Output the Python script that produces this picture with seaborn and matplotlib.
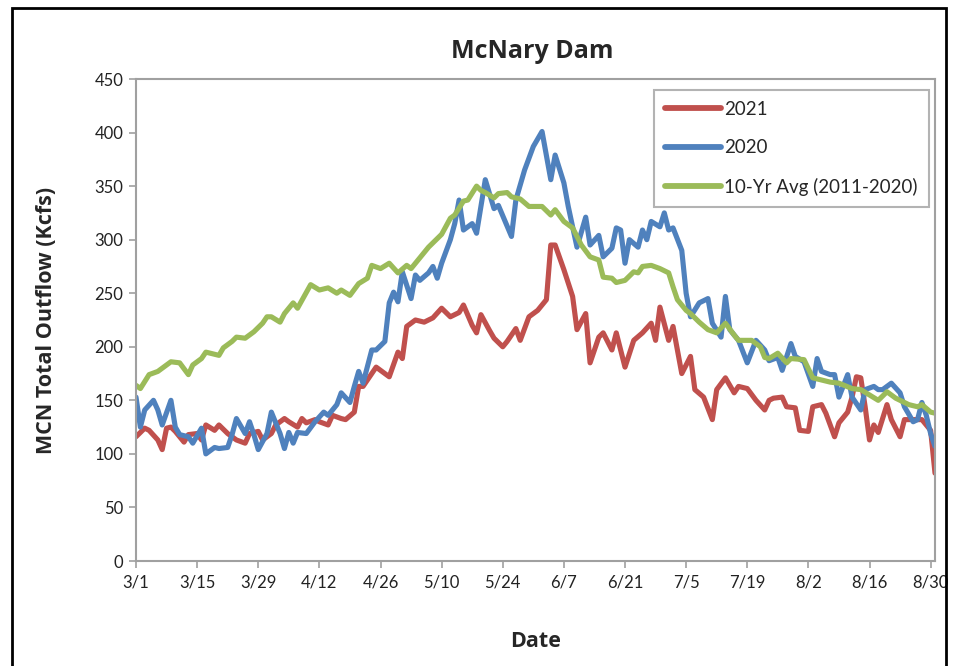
import numpy as np
import pandas as pd
import matplotlib
matplotlib.use("Agg")
import matplotlib.pyplot as plt
from matplotlib.patches import Rectangle
import seaborn as sns

# -------------------------------
# Data (day 0 = 3/1), values in Kcfs
# -------------------------------
days_2021 = [0, 2, 3, 5, 6, 7, 8, 9, 11, 12, 14, 15, 16, 18, 19, 21, 23, 25, 26, 28,
             29, 31, 32, 34, 35, 37, 38, 39, 41, 42, 44, 45, 47, 48, 50, 51, 52, 54, 55, 56,
             58, 60, 61, 62, 64, 66, 68, 70, 72, 74, 75, 77, 78, 79, 81, 82, 84, 85, 87, 88,
             90, 92, 94, 95, 96, 98, 100, 101, 103, 104, 106, 107, 109, 110, 112, 114, 116, 118, 119, 120,
             122, 123, 125, 127, 128, 130, 132, 133, 135, 137, 138, 140, 142, 144, 145, 146, 148, 149, 151, 152,
             154, 155, 157, 158, 160, 161, 163, 164, 165, 166, 167, 168, 169, 170, 172, 173, 175, 176, 178, 180,
             182, 183]
flow_2021 = [116, 124, 122, 113, 104, 124, 125, 121, 111, 118, 119, 113, 127, 122, 127, 119, 113, 110, 119, 121,
             113, 119, 127, 133, 130, 125, 133, 129, 132, 130, 127, 136, 133, 132, 139, 163, 163, 175, 181, 178,
             172, 195, 189, 219, 225, 223, 227, 236, 228, 232, 239, 220, 213, 230, 215, 208, 200, 205, 217, 206,
             228, 234, 244, 295, 295, 272, 247, 216, 231, 185, 209, 213, 197, 213, 181, 206, 213, 222, 206, 237,
             206, 219, 175, 191, 160, 153, 132, 160, 171, 157, 163, 161, 150, 141, 150, 152, 153, 144, 143, 122,
             121, 144, 146, 138, 116, 129, 139, 153, 172, 171, 144, 113, 127, 120, 146, 132, 116, 132, 132, 132,
             122, 82]

days_2020 = [0, 1, 2, 4, 5, 6, 8, 9, 10, 12, 13, 15, 16, 18, 19, 21, 22, 23, 25, 26,
             27, 28, 30, 31, 33, 34, 35, 36, 37, 39, 41, 43, 44, 46, 47, 49, 50, 51, 52, 54,
             55, 57, 58, 59, 60, 61, 63, 64, 65, 67, 68, 69, 70, 72, 73, 74, 75, 77, 78, 80,
             82, 83, 86, 87, 89, 91, 93, 95, 96, 98, 99, 101, 103, 104, 106, 107, 109, 110, 111, 112,
             113, 115, 116, 117, 118, 120, 121, 122, 123, 125, 126, 127, 129, 131, 132, 134, 135, 136, 138, 140,
             142, 144, 145, 147, 148, 150, 151, 153, 155, 156, 157, 159, 160, 161, 163, 164, 166, 167, 169, 170,
             171, 173, 175, 176, 178, 179, 180, 181, 182, 183]
flow_2020 = [153, 125, 141, 150, 141, 127, 150, 125, 118, 116, 110, 124, 100, 106, 105, 106, 118, 133, 119, 130,
             118, 104, 119, 139, 119, 105, 120, 110, 120, 119, 130, 139, 136, 146, 157, 148, 163, 177, 166, 197,
             197, 205, 241, 251, 242, 270, 245, 267, 262, 269, 275, 264, 278, 300, 315, 337, 309, 315, 306, 356,
             329, 332, 303, 337, 365, 387, 401, 356, 379, 353, 331, 293, 321, 295, 304, 284, 292, 311, 309, 278,
             300, 293, 309, 300, 317, 312, 325, 309, 311, 290, 250, 228, 241, 245, 222, 209, 247, 216, 206, 185,
             206, 197, 187, 190, 178, 203, 191, 186, 163, 189, 177, 174, 174, 153, 174, 153, 141, 160, 163, 160,
             160, 166, 157, 144, 130, 132, 148, 136, 119, 107]

days_avg = [0, 1, 3, 5, 6, 8, 10, 12, 13, 15, 16, 17, 19, 20, 22, 23, 25, 26, 27, 29,
            30, 31, 33, 34, 36, 37, 40, 42, 44, 46, 47, 49, 51, 53, 54, 56, 58, 60, 62, 63,
            65, 67, 69, 70, 72, 73, 75, 76, 78, 79, 80, 82, 83, 85, 86, 88, 90, 93, 95, 96,
            98, 100, 102, 104, 106, 107, 109, 110, 112, 114, 115, 116, 118, 120, 122, 123, 124, 126, 127, 129,
            131, 133, 135, 137, 138, 141, 143, 144, 145, 147, 149, 150, 153, 155, 157, 159, 161, 164, 166, 168,
            170, 172, 174, 177, 179, 180, 182, 183]
flow_avg = [164, 161, 174, 177, 180, 186, 185, 174, 183, 189, 195, 194, 192, 199, 205, 209, 208, 211, 214, 222,
            228, 228, 223, 231, 241, 236, 258, 253, 255, 250, 253, 248, 259, 264, 276, 273, 278, 269, 276, 273,
            283, 293, 301, 305, 320, 323, 336, 337, 350, 346, 344, 339, 343, 344, 340, 338, 331, 331, 323, 328,
            317, 311, 295, 284, 281, 265, 264, 260, 262, 270, 269, 275, 276, 273, 269, 256, 244, 234, 231, 223,
            216, 213, 222, 211, 206, 206, 200, 190, 189, 194, 185, 189, 188, 171, 169, 167, 166, 161, 160, 155,
            150, 158, 152, 146, 144, 146, 139, 138]

tick_days = [0, 14, 28, 42, 56, 70, 84, 98, 112, 126, 140, 154, 168, 182]
tick_labels = ["3/1", "3/15", "3/29", "4/12", "4/26", "5/10", "5/24", "6/7",
               "6/21", "7/5", "7/19", "8/2", "8/16", "8/30"]

series_names = ["2021", "2020", "10-Yr Avg (2011-2020)"]
colors = ["#C0504D", "#4F81BD", "#9BBB59"]

df = pd.concat([
    pd.DataFrame({"day": days_2021, "flow": flow_2021, "series": series_names[0]}),
    pd.DataFrame({"day": days_2020, "flow": flow_2020, "series": series_names[1]}),
    pd.DataFrame({"day": days_avg, "flow": flow_avg, "series": series_names[2]}),
])

# -------------------------------
# Figure
# -------------------------------
sns.set_theme(style="white")
plt.rcParams["font.family"] = ["Lato", "DejaVu Sans"]
BOLD = ["Open Sans", "DejaVu Sans"]

fig = plt.figure(figsize=(9.64, 6.66), dpi=100)
ax = fig.add_axes([136 / 964, 1 - 561 / 666, (935 - 136) / 964, (561 - 79) / 666])

sns.lineplot(data=df, x="day", y="flow", hue="series", hue_order=series_names,
             palette=colors, linewidth=3.7, sort=False, estimator=None, ax=ax)

ax.set_xlim(0, 183)
ax.set_ylim(0, 450)
ax.set_yticks(range(0, 451, 50))
ax.set_xticks(tick_days)
ax.set_xticklabels(tick_labels)
ax.tick_params(axis="both", labelsize=12, colors="#222222", length=5,
               direction="out", color="#a0a0a0", width=1.2)
ax.tick_params(axis="x", pad=5, bottom=True)
ax.tick_params(axis="y", left=True, pad=4)
for s in ax.spines.values():
    s.set_color("#a0a0a0")
    s.set_linewidth(1.5)

ax.set_xlabel("Date", fontsize=15.5, fontweight="bold", family=BOLD)
ax.set_ylabel("MCN Total Outflow (Kcfs)", fontsize=15.5, fontweight="bold", family=BOLD)
ax.xaxis.set_label_coords(0.5, (561 - 631) / 482)
ax.yaxis.set_label_coords((57 - 136) / 799, 0.5)
ax.text((532 - 136) / 799, (561 - 52) / 482, "McNary Dam", transform=ax.transAxes,
        ha="center", va="center", fontsize=18, fontweight="bold", family=BOLD)

handles, labels = ax.get_legend_handles_labels()
leg = ax.legend(handles, labels, loc="upper right", bbox_to_anchor=(0.992, 0.978),
                borderaxespad=0, fontsize=13.5, frameon=True, fancybox=False,
                edgecolor="#a0a0a0", handlelength=3.0, handletextpad=0.15,
                labelspacing=1.15, borderpad=0.6)
leg.get_frame().set_linewidth(1.5)
for line in leg.get_lines():
    line.set_linewidth(4.2)
    line.set_solid_capstyle("round")

# outer frame around the chart
fig.patches.append(Rectangle((12 / 964, -0.02), (946 - 12) / 964, 1 - 8 / 666 + 0.02,
                             transform=fig.transFigure, fill=False, edgecolor="black",
                             linewidth=2, clip_on=False))

fig.savefig("out.png", dpi=100)
plt.close(fig)
